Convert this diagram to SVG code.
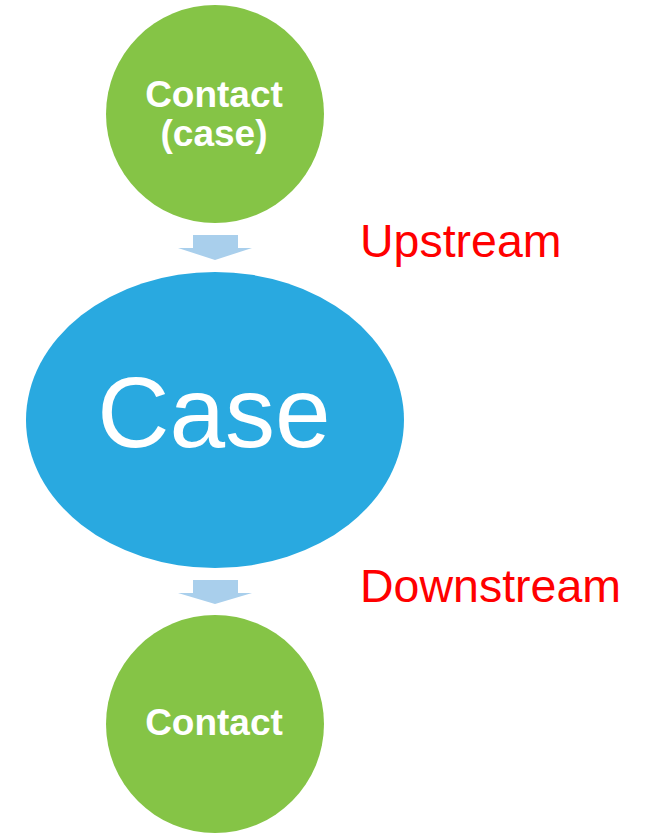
<svg xmlns="http://www.w3.org/2000/svg" width="651" height="835" viewBox="0 0 651 835">
<style>
.green{fill:#85C446}
.blue{fill:#29A9E0}
.arrow{fill:#A9CFEC}
.wt{fill:#FFFFFF;font-family:"Liberation Sans",Arial,sans-serif;text-anchor:middle}
.bold{font-weight:bold;font-size:37px}
.red{fill:#FF0000;font-family:"Liberation Sans",Arial,sans-serif;font-size:46.5px}
</style>
<rect width="651" height="835" fill="#FFFFFF"/>
<g id="connectors">
<polygon class="arrow" points="193,235 238,235 238,248 252,248 215,260 178,248 193,248"/>
<polygon class="arrow" points="193,580 238,580 238,593 252,593 215,604 178,593 193,593"/>
</g>
<g id="node-contact-case">
<circle class="green" cx="215" cy="114" r="109"/>
<text class="wt bold" x="214" y="107">Contact</text>
<text class="wt bold" x="214" y="146">(case)</text>
</g>
<g id="node-case">
<ellipse class="blue" cx="215" cy="420" rx="189" ry="148"/>
<text class="wt" x="214" y="447" font-size="100">Case</text>
</g>
<g id="node-contact">
<circle class="green" cx="215" cy="724" r="109"/>
<text class="wt bold" x="214" y="735">Contact</text>
</g>
<text class="red" x="360" y="257">Upstream</text>
<text class="red" x="360" y="602">Downstream</text>
</svg>
